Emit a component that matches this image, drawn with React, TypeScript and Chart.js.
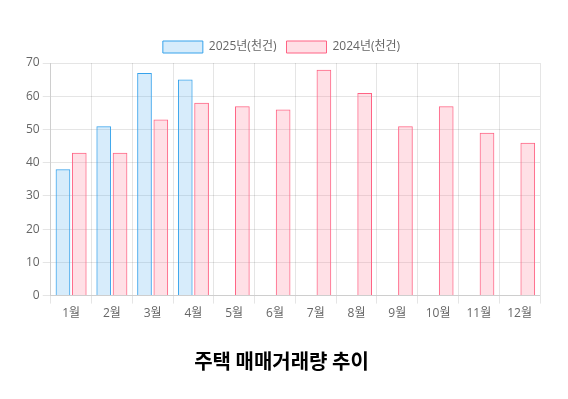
import React, { useEffect, useRef } from "react";
import { Chart, registerables } from "chart.js";

Chart.register(...registerables);

const categories = ["1월", "2월", "3월", "4월", "5월", "6월", "7월", "8월", "9월", "10월", "11월", "12월"];
const values2025 = [38, 51, 67, 65];
const values2024 = [43, 43, 53, 58, 57, 56, 68, 61, 51, 57, 49, 46];
const label2025 = "2025년(천건)";
const label2024 = "2024년(천건)";
const titleText = "주택 매매거래량 추이";

export default function App() {
  const ref = useRef<HTMLCanvasElement>(null);
  useEffect(() => {
    if (!ref.current) return;
    Chart.defaults.font.family = "'Open Sans', 'Noto Sans CJK KR', sans-serif";
    const chart = new Chart(ref.current, {
      type: "bar",
      data: {
        labels: categories,
        datasets: [
          {
            label: label2025,
            data: values2025,
            backgroundColor: "rgba(54, 162, 235, 0.2)",
            borderColor: "rgb(54, 162, 235)",
            borderWidth: 1,
          },
          {
            label: label2024,
            data: values2024,
            backgroundColor: "rgba(255, 99, 132, 0.2)",
            borderColor: "rgb(255, 99, 132)",
            borderWidth: 1,
          },
        ],
      },
      options: {
        animation: false,
        responsive: true,
        maintainAspectRatio: false,
        layout: { padding: { left: 15, right: 20, top: 23, bottom: 10 } },
        plugins: {
          legend: { position: "top" },
          title: {
            display: true,
            text: titleText,
            position: "bottom",
            color: "#000",
            font: { size: 20, weight: "bold", family: "'Noto Sans CJK KR', sans-serif" },
            padding: { top: 25, bottom: 8 },
          },
        },
        scales: {
          y: { beginAtZero: true, max: 70, ticks: { stepSize: 10 } },
        },
      },
    });
    return () => chart.destroy();
  }, []);
  return (
    <div style={{ width: 552, height: 383 }}>
      <canvas ref={ref} />
    </div>
  );
}
